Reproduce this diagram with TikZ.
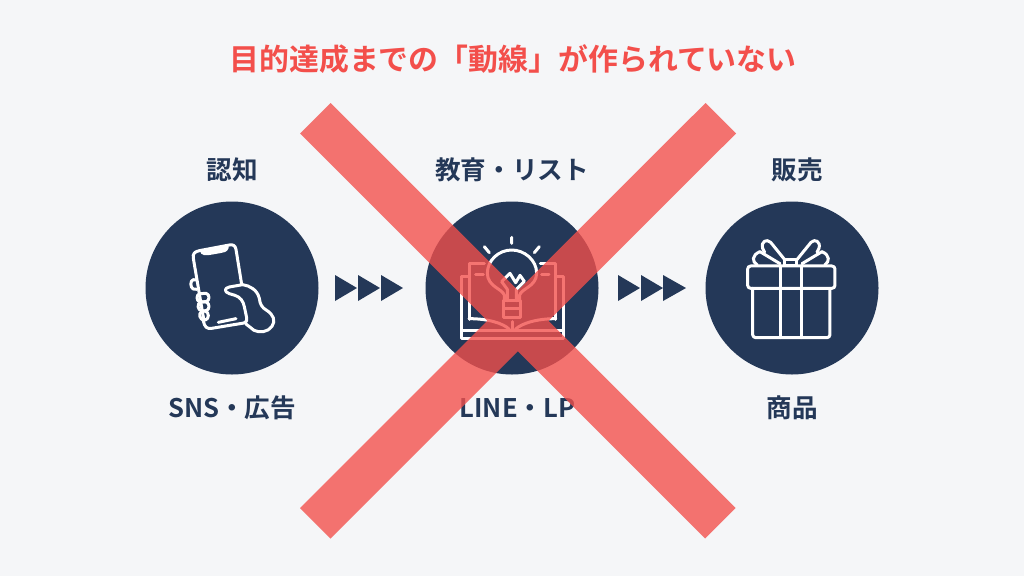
\documentclass[tikz,border=0pt]{standalone}
\usepackage{fontspec}
\setmainfont{Noto Sans CJK JP}[BoldFont={* Bold}]
\usetikzlibrary{positioning}
\definecolor{navy}{HTML}{243858}
\definecolor{crossred}{HTML}{F34F4B}
\definecolor{paper}{HTML}{F5F6F8}
\tikzset{
	stepcircle/.style={circle,fill=navy,minimum size=173pt,inner sep=0pt},
	steplabel/.style={text=navy,font=\fontsize{25.6}{27}\selectfont\bfseries,inner sep=0pt},
	iconline/.style={draw=white,line width=3pt,line join=round,line cap=round},
	chevron/.style={fill=navy},
}
\begin{document}
\begin{tikzpicture}[x=1pt,y=-1pt]
	\fill[paper] (0,0) rectangle (1024,576);

	\node[text=crossred,font=\fontsize{29.9}{32}\selectfont\bfseries,inner sep=0pt] (title) at (513,59){目的達成までの「動線」が作られていない};

	\node[stepcircle] (c1) at (232,288){};
	\node[stepcircle] (c2) at (512,288){};
	\node[stepcircle] (c3) at (792,288){};

	\node[steplabel] (t1) at (232,170){認知};
	\node[steplabel] (t2) at (512,170){教育・リスト};
	\node[steplabel] (t3) at (797,170){販売};
	\node[steplabel] (b1) at (232,408){SNS・広告};
	\node[steplabel] (b2) at (517.5,408){LINE・LP};
	\node[steplabel] (b3) at (792,408){商品};

	% triangles
	\fill[chevron] (335,275) -- (357,288) -- (335,301) -- cycle;
	\fill[chevron] (358,275) -- (380,288) -- (358,301) -- cycle;
	\fill[chevron] (381,275) -- (403,288) -- (381,301) -- cycle;
	\fill[chevron] (618,275) -- (640,288) -- (618,301) -- cycle;
	\fill[chevron] (641,275) -- (663,288) -- (641,301) -- cycle;
	\fill[chevron] (663,275) -- (686,288) -- (663,301) -- cycle;

	% phone
	\begin{scope}[shift={(140,195)},x=0.3333pt,y=-0.3333pt]
		\draw[iconline] (192,378) -- (160,190) .. controls (157,175) and (165,170) .. (178,167) -- (268,150) .. controls (280,148) and (286,152) .. (288,163) -- (305,268);
		\draw[iconline,fill=white] (186,172) -- (262,157) .. controls (258,168) and (250,168) .. (240,170) -- (205,176) .. controls (196,178) and (190,176) .. (186,172) -- cycle;
		\draw[iconline] (235,382) -- (288,371);
		\draw[iconline] (168,255) -- (160,254) .. controls (150,256) and (150,278) .. (160,282) -- (170,283);
		\draw[iconline] (180,296) -- (198,295) .. controls (210,297) and (210,318) .. (198,320) -- (180,321) .. controls (168,318) and (168,298) .. (180,296) -- cycle;
		\draw[iconline] (183,321) -- (198,321) .. controls (210,324) and (210,345) .. (198,347) -- (186,348) .. controls (172,346) and (170,325) .. (183,321) -- cycle;
		\draw[iconline] (186,349) -- (196,348) .. controls (208,352) and (208,372) .. (196,375) .. controls (178,378) and (174,354) .. (186,349) -- cycle;
		\draw[iconline] (190,378) .. controls (194,396) and (200,402) .. (215,400) -- (312,384) .. controls (320,382) and (322,376) .. (320,368) -- (313,335) .. controls (310,318) and (300,306) .. (285,301) -- (268,296) .. controls (252,290) and (252,280) .. (268,276) -- (308,269) .. controls (330,272) and (352,285) .. (358,310) .. controls (360,328) and (366,338) .. (380,346) .. controls (400,358) and (408,378) .. (396,394) .. controls (384,412) and (358,414) .. (342,406) -- (318,387);
	\end{scope}

	% bulb and book
	\begin{scope}[shift={(455,230)},x=0.3333pt,y=-0.3333pt]
		\draw[iconline] (170,22) -- (170,40) (88,50) -- (103,68) (253,50) -- (238,68);
		\draw[iconline] (148,212) -- (148,195) .. controls (140,175) and (98,170) .. (97,130) .. controls (97,90) and (132,60) .. (170,60) .. controls (208,60) and (245,90) .. (245,130) .. controls (244,170) and (200,175) .. (194,195) -- (194,212);
		\draw[iconline] (146,212) rectangle (196,262) (146,237) -- (196,237);
		\draw[iconline] (157,212) -- (157,178) -- (140,155) -- (165,130) -- (182,158) -- (195,136) -- (208,154) -- (184,178) -- (184,212);
		\draw[iconline] (42,140) -- (20,140) -- (20,325) -- (325,325) -- (325,140) -- (302,140);
		\draw[iconline] (20,303) -- (325,303);
		\draw[iconline] (42,268) -- (42,100) -- (88,100);
		\draw[iconline] (302,268) -- (302,100) -- (256,100);
		\draw[iconline] (62,133) -- (85,133) (260,133) -- (282,133);
		\draw[iconline] (42,266) .. controls (100,266) and (145,280) .. (163,298) (302,266) .. controls (245,266) and (200,280) .. (181,298);
		\draw[iconline] (172,275) -- (172,300);
	\end{scope}

	% gift
	\begin{scope}[shift={(610,195)},x=0.3333pt,y=-0.3333pt]
		\draw[iconline,rounded corners=3pt] (413,213) rectangle (675,280);
		\draw[iconline,rounded corners=3pt] (428,280) -- (428,428) -- (660,428) -- (660,280);
		\draw[iconline] (512,213) -- (512,428) (576,213) -- (576,428);
		\draw[iconline] (525,213) rectangle (560,195);
		\draw[iconline] (525,195) -- (482,142) .. controls (470,130) and (452,140) .. (458,160) -- (464,172);
		\draw[iconline] (560,195) -- (603,142) .. controls (615,130) and (633,140) .. (627,160) -- (621,172);
		\draw[iconline] (450,170) .. controls (425,180) and (425,200) .. (442,210);
		\draw[iconline] (636,170) .. controls (660,180) and (660,200) .. (644,210);
		\draw[iconline] (450,170) -- (510,206) (636,170) -- (576,206);
	\end{scope}

	% cross
	\fill[crossred,opacity=0.79] (330.5,103) -- (735.5,508) -- (705,538.5) -- (300,133.5) -- cycle
		(705.5,103) -- (736,133.5) -- (330.5,538.5) -- (300,508) -- cycle;
\end{tikzpicture}
\end{document}
